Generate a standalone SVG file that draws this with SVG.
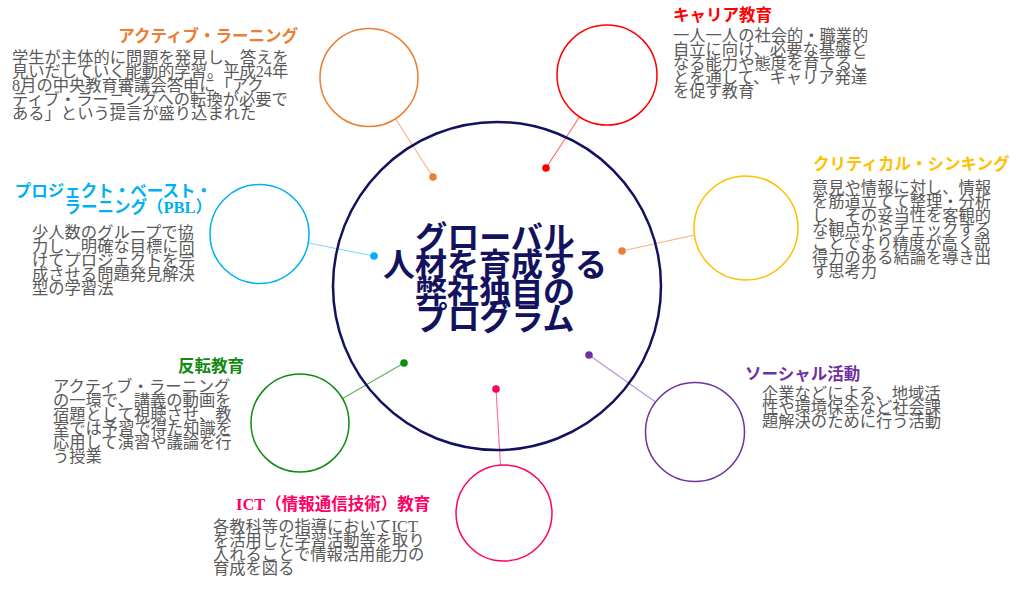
<svg xmlns="http://www.w3.org/2000/svg" width="1024" height="589" viewBox="0 0 1024 589">
<style>
text{font-family:"Liberation Serif","Noto Sans CJK JP",serif;font-size:16.5px}
.body{fill:#595959;font-size:16.3px}
.ttl{font-weight:bold}
.ring{fill:none;stroke-width:1.5}
.conn{stroke-width:1.1;fill:none}
.center{font-size:32px;font-weight:bold;fill:#12125e;text-anchor:middle}
</style>
<rect width="1024" height="589" fill="#fff"/>
<g id="connectors">
<line class="conn" x1="395.5" y1="118.7" x2="433" y2="177" stroke="#F4B183"/>
<circle cx="433" cy="177" r="3.8" fill="#ED7D31"/>
<line class="conn" x1="579.6" y1="116.8" x2="546" y2="168" stroke="#FF6666"/>
<circle cx="546" cy="168" r="3.8" fill="#FF0000"/>
<line class="conn" x1="694.5" y1="235" x2="622" y2="251" stroke="#F4B183"/>
<circle cx="622" cy="251" r="3.8" fill="#ED7D31"/>
<line class="conn" x1="308.5" y1="243" x2="374" y2="256" stroke="#80D8F8"/>
<circle cx="374" cy="256" r="3.8" fill="#00B0F0"/>
<line class="conn" x1="589" y1="355" x2="655.5" y2="402" stroke="#B594D4"/>
<circle cx="589" cy="355" r="3.8" fill="#7030A0"/>
<line class="conn" x1="404" y1="363" x2="342.5" y2="398.5" stroke="#60B060"/>
<circle cx="404" cy="363" r="3.8" fill="#108A10"/>
<line class="conn" x1="496" y1="389" x2="500.5" y2="465" stroke="#FF6699"/>
<circle cx="496" cy="389" r="3.8" fill="#FF0066"/>
</g>
<g id="center">
<circle cx="497" cy="286" r="164" fill="none" stroke="#12125e" stroke-width="2.5"/>
<text class="center" x="495" y="249">グローバル</text>
<text class="center" x="495" y="276">人材を育成する</text>
<text class="center" x="495" y="303">弊社独自の</text>
<text class="center" x="495" y="330">プログラム</text>
</g>
<g id="active-learning">
<circle class="ring" cx="369" cy="77.5" r="49" stroke="#ED7D31"/>
<text class="ttl" x="298" y="42" text-anchor="end" fill="#ED7D31">アクティブ・ラーニング</text>
<text class="body" x="12" y="63"><tspan x="12">学生が主体的に問題を発見し、答えを</tspan><tspan x="12" dy="14">見いだしていく能動的学習。平成24年</tspan><tspan x="12" dy="14">8月の中央教育審議会答申に「アク</tspan><tspan x="12" dy="14">ティブ・ラーニングへの転換が必要で</tspan><tspan x="12" dy="14">ある」という提言が盛り込まれた</tspan></text>
</g>
<g id="career">
<circle class="ring" cx="607" cy="75" r="50" stroke="#FF0000"/>
<text class="ttl" x="673" y="21" fill="#FF0000">キャリア教育</text>
<text class="body" x="673" y="41"><tspan x="673">一人一人の社会的・職業的</tspan><tspan x="673" dy="14">自立に向け、必要な基盤と</tspan><tspan x="673" dy="14">なる能力や態度を育てるこ</tspan><tspan x="673" dy="14">とを通して、キャリア発達</tspan><tspan x="673" dy="14">を促す教育</tspan></text>
</g>
<g id="critical-thinking">
<circle class="ring" cx="746" cy="228" r="52" stroke="#FFC000"/>
<text class="ttl" x="813" y="170" fill="#FFC000">クリティカル・シンキング</text>
<text class="body" x="812" y="193"><tspan x="812">意見や情報に対し、情報</tspan><tspan x="812" dy="14">を筋道立てて整理・分析</tspan><tspan x="812" dy="14">し、その妥当性を客観的</tspan><tspan x="812" dy="14">な観点からチェックする</tspan><tspan x="812" dy="14">ことでより精度が高く説</tspan><tspan x="812" dy="14">得力のある結論を導き出</tspan><tspan x="812" dy="14">す思考力</tspan></text>
</g>
<g id="pbl">
<circle class="ring" cx="259.5" cy="234" r="49.5" stroke="#00B0F0"/>
<text class="ttl" x="212" y="197" text-anchor="end" fill="#00B0F0">プロジェクト・ベースト・</text>
<text class="ttl" x="212" y="213" text-anchor="end" fill="#00B0F0">ラーニング（PBL）</text>
<text class="body" x="32" y="237.5"><tspan x="32">少人数のグループで協</tspan><tspan x="32" dy="14">力し、明確な目標に向</tspan><tspan x="32" dy="14">けてプロジェクトを完</tspan><tspan x="32" dy="14">成させる問題発見解決</tspan><tspan x="32" dy="14">型の学習法</tspan></text>
</g>
<g id="social">
<circle class="ring" cx="695" cy="432" r="49.5" stroke="#7030A0"/>
<text class="ttl" x="745" y="380" fill="#7030A0">ソーシャル活動</text>
<text class="body" x="762" y="398.5"><tspan x="762">企業などによる、地域活</tspan><tspan x="762" dy="14">性や環境保全など社会課</tspan><tspan x="762" dy="14">題解決のために行う活動</tspan></text>
</g>
<g id="flipped">
<circle class="ring" cx="300" cy="423" r="49" stroke="#108A10"/>
<text class="ttl" x="244" y="372" text-anchor="end" fill="#108A10">反転教育</text>
<text class="body" x="53" y="392"><tspan x="53">アクティブ・ラーニング</tspan><tspan x="53" dy="14">の一環で、講義の動画を</tspan><tspan x="53" dy="14">宿題として視聴させ、教</tspan><tspan x="53" dy="14">室では予習で得た知識を</tspan><tspan x="53" dy="14">応用して演習や議論を行</tspan><tspan x="53" dy="14">う授業</tspan></text>
</g>
<g id="ict">
<circle class="ring" cx="504" cy="513" r="48" stroke="#FF0066"/>
<text class="ttl" x="236" y="510" fill="#FF0066">ICT（情報通信技術）教育</text>
<text class="body" x="213" y="531.5"><tspan x="213">各教科等の指導においてICT</tspan><tspan x="213" dy="14">を活用した学習活動等を取り</tspan><tspan x="213" dy="14">入れることで情報活用能力の</tspan><tspan x="213" dy="14">育成を図る</tspan></text>
</g>
</svg>
